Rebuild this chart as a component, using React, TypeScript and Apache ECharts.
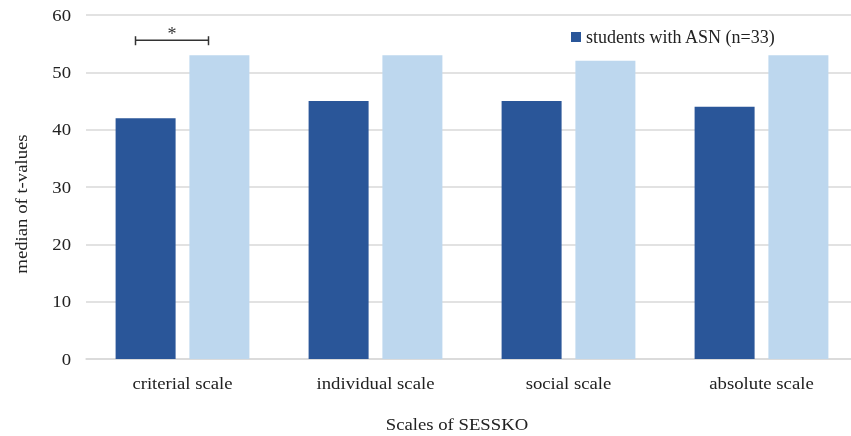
import React, { useEffect, useRef } from "react";
import * as echarts from "echarts";

const categories = ["criterial scale", "individual scale", "social scale", "absolute scale"];
const asnValues = [42, 45, 45, 44];
const otherValues = [53, 53, 52, 53];
const seriesNames = ["students with ASN (n=33)", "students without ASN"];
const yTickValues = [0, 10, 20, 30, 40, 50, 60];
const yAxisName = "median of t-values";
const xAxisName = "Scales of SESSKO";
const sigLabel = "*";
const sigLevel = 55.6;

const FONT = "'Liberation Serif', 'Times New Roman', serif";
const SX = 1.17;

export default function App() {
  const ref = useRef<HTMLDivElement>(null);
  useEffect(() => {
    if (!ref.current) return;
    const chart = echarts.init(ref.current, null, { renderer: "svg" });
    chart.setOption({
      animation: false,
      grid: { left: 86, top: 15, width: 772, bottom: 77, containLabel: false },
      legend: {
        data: [seriesNames[0]],
        left: 566,
        top: 23,
        itemWidth: 10,
        itemHeight: 10,
        icon: "rect",
        itemGap: 5,
        textStyle: { fontFamily: FONT, fontSize: 18, color: "#222" },
      },
      xAxis: {
        type: "category",
        data: categories,
        axisLine: { show: true, lineStyle: { color: "#d9d9d9", width: 1.5 } },
        axisTick: { show: false },
        axisLabel: { show: false },
      },
      yAxis: {
        type: "value",
        min: yTickValues[0],
        max: yTickValues[yTickValues.length - 1],
        interval: yTickValues[1] - yTickValues[0],
        axisLine: { show: false },
        axisTick: { show: false },
        splitLine: { lineStyle: { color: "#d9d9d9", width: 1.5 } },
        axisLabel: { show: false },
      },
      series: [
        {
          name: seriesNames[0],
          type: "bar",
          data: asnValues,
          barWidth: 60,
          barGap: "23%",
          itemStyle: { color: "#2a5699" },
        },
        {
          name: seriesNames[1],
          type: "bar",
          data: otherValues,
          barWidth: 60,
          itemStyle: { color: "#bdd7ee" },
        },
      ],
    });
    const txt = (text: string, x: number, y: number, align: string, extra: any = {}) => ({
      type: "text",
      x,
      y,
      scaleX: SX,
      ...extra,
      style: { text, fontFamily: FONT, fontSize: 16, fill: "#222", align, verticalAlign: "middle" },
    });
    const graphics: any[] = [];
    yTickValues.forEach((v) => {
      const py = chart.convertToPixel({ yAxisIndex: 0 }, v) as number;
      graphics.push(txt(String(v), 71, py, "right"));
    });
    const baseY = chart.convertToPixel({ yAxisIndex: 0 }, 0) as number;
    categories.forEach((c, i) => {
      const px = chart.convertToPixel({ xAxisIndex: 0 }, i) as number;
      graphics.push(txt(c, px, baseY + 24, "center"));
    });
    const cx = chart.convertToPixel({ xAxisIndex: 0 }, 0) as number;
    const y = chart.convertToPixel({ yAxisIndex: 0 }, sigLevel) as number;
    const x1 = cx - 47;
    const x2 = cx + 26;
    graphics.push(
      { type: "line", shape: { x1, y1: y, x2, y2: y }, style: { stroke: "#333", lineWidth: 1.5 } },
      { type: "line", shape: { x1, y1: y - 4, x2: x1, y2: y + 5 }, style: { stroke: "#333", lineWidth: 1.5 } },
      { type: "line", shape: { x1: x2, y1: y - 4, x2, y2: y + 5 }, style: { stroke: "#333", lineWidth: 1.5 } },
      {
        type: "text",
        x: (x1 + x2) / 2,
        y: y + 3,
        style: { text: sigLabel, fontFamily: FONT, fontSize: 18, fill: "#333", align: "center", verticalAlign: "bottom" },
      },
      {
        type: "text",
        x: 21,
        y: 204,
        rotation: Math.PI / 2,
        scaleX: SX,
        style: { text: yAxisName, fontFamily: FONT, fontSize: 16, fill: "#222", align: "center", verticalAlign: "middle" },
      },
      txt(xAxisName, 457, 424, "center")
    );
    chart.setOption({ graphic: graphics });
    return () => chart.dispose();
  }, []);
  return (
    <div style={{ position: "fixed", left: 0, top: 0, width: 851, height: 436, overflow: "hidden" }}>
      <div ref={ref} style={{ width: 860, height: 436 }} />
    </div>
  );
}
